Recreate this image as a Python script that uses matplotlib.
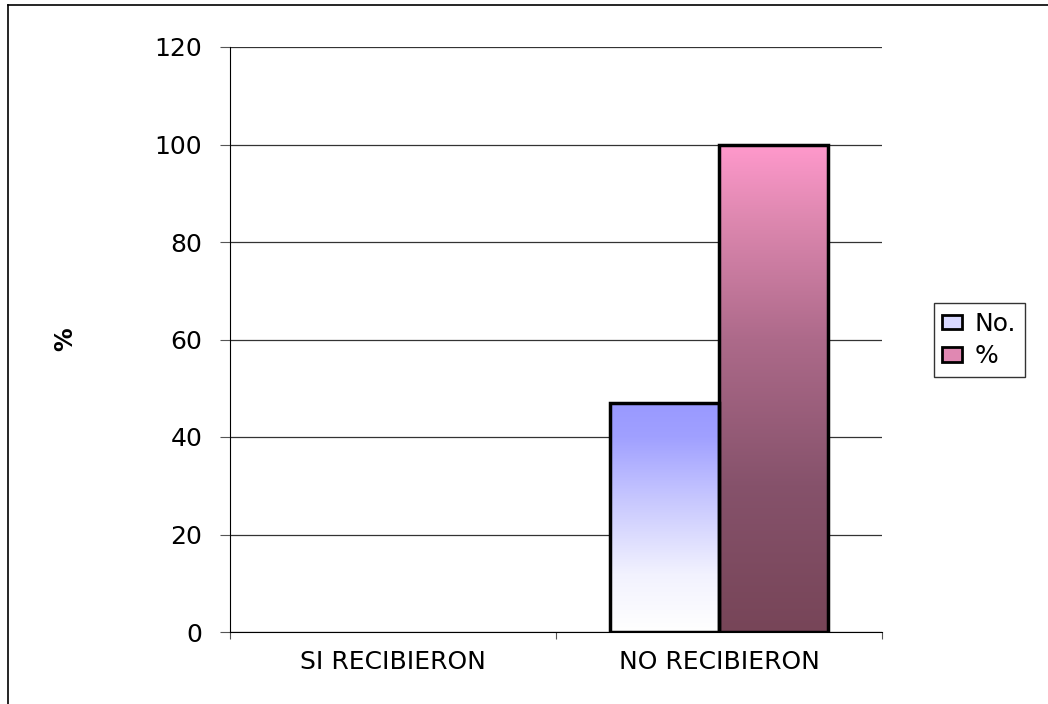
import numpy as np
import matplotlib.pyplot as plt
from matplotlib.patches import Rectangle
from matplotlib.lines import Line2D
from matplotlib.colors import LinearSegmentedColormap

plt.rcParams['font.family'] = ['DejaVu Sans']

categorias = ['SI RECIBIERON', 'NO RECIBIERON']
series = ['No.', '%']
valores_no = [0, 47]
valores_pct = [0, 100]

W, H = 1048, 704
fig = plt.figure(figsize=(W / 100, H / 100), dpi=100)
ax = fig.add_axes([230 / W, 1 - 632 / H, (882 - 230) / W, (632 - 47) / H])

# marco exterior del grafico
fig.add_artist(Line2D([8 / W, 8 / W], [0, 1 - 5 / H], transform=fig.transFigure, color='black', lw=1.2))
fig.add_artist(Line2D([8 / W, 1], [1 - 5 / H, 1 - 5 / H], transform=fig.transFigure, color='black', lw=1.2))

cmap_no = LinearSegmentedColormap.from_list('no', [(0, '#ffffff'), (0.25, '#f2f2fe'), (0.6, '#c4c4ff'), (0.85, '#a0a0ff'), (1, '#9999ff')])
cmap_pct = LinearSegmentedColormap.from_list('pct', [(0, '#774558'), (0.3, '#86526b'), (0.6, '#ad6a8a'), (0.85, '#de88b0'), (1, '#ff99cc')])

x = np.arange(len(categorias))
w = 1 / 3.0
grad = np.linspace(0, 1, 256).reshape(-1, 1)

for xi, v_no, v_pct in zip(x, valores_no, valores_pct):
    for off, v, cm in ((-w / 2, v_no, cmap_no), (w / 2, v_pct, cmap_pct)):
        if v <= 0:
            continue
        x0 = xi + off - w / 2
        im = ax.imshow(grad, cmap=cm, origin='lower', aspect='auto',
                       extent=(x0, x0 + w, 0, v), zorder=2)
        rect = Rectangle((x0, 0), w, v, facecolor='none', edgecolor='black', lw=2.5, zorder=3)
        ax.add_patch(rect)
        im.set_clip_path(rect)

ax.set_xlim(-0.5, 1.5)
ax.set_ylim(0, 120)
ax.set_yticks(range(0, 121, 20))
ax.yaxis.grid(True, color='#333333', lw=0.9)
ax.set_axisbelow(True)
for s in ('top', 'right'):
    ax.spines[s].set_visible(False)
ax.spines['left'].set_color('black')
ax.spines['bottom'].set_color('black')

ax.set_xticks([-0.5, 0.5, 1.5])
ax.set_xticklabels([])
ax.set_xticks(x, minor=True)
ax.set_xticklabels(categorias, minor=True, fontsize=18)
ax.tick_params(axis='x', which='minor', length=0, pad=13)
ax.tick_params(axis='x', which='major', length=5, direction='out', color='#555555')
ax.tick_params(axis='y', length=7, direction='out', color='#555555', labelsize=18, pad=13)
ax.set_ylabel('%', fontsize=17, fontweight='bold')
ax.yaxis.set_label_coords(-0.235, 0.5)

handles = [Rectangle((0, 0), 1, 1, facecolor='#d8d8ff', edgecolor='black', lw=2),
           Rectangle((0, 0), 1, 1, facecolor='#e088b2', edgecolor='black', lw=2)]
fig.legend(handles, series, loc='center left', bbox_to_anchor=(921 / W, 1 - 340 / H),
           frameon=True, fancybox=False, edgecolor='black', fontsize=18,
           handlelength=0.8, handleheight=0.5, handletextpad=0.5, borderpad=0.35,
           labelspacing=0.35)

fig.savefig('out.png', dpi=100)
